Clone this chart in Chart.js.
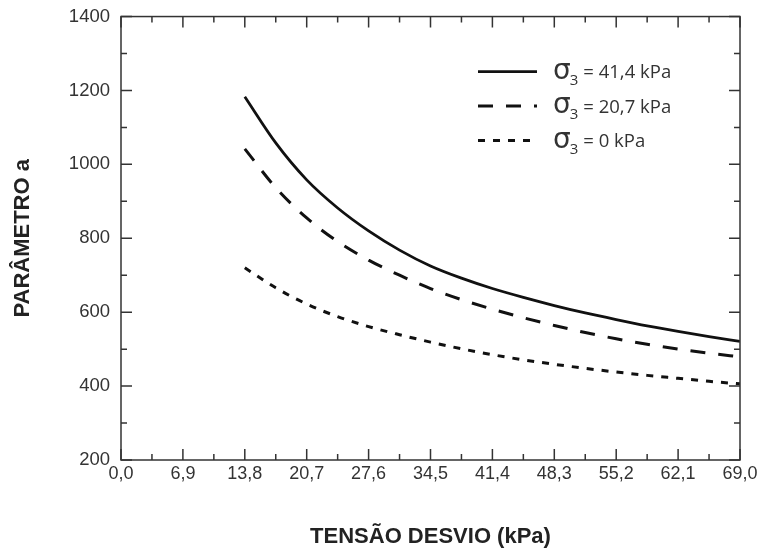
<!DOCTYPE html>
<html>
<head>
<meta charset="utf-8">
<script src="https://cdn.jsdelivr.net/npm/chart.js@4.4.1/dist/chart.umd.min.js"></script>
<style>
  html, body { margin: 0; padding: 0; background: #fff; }
  #wrap { width: 761px; height: 548px; }
</style>
</head>
<body>
<div id="wrap"><canvas id="grafico" width="761" height="548"></canvas></div>
<script>
// valores
const tensaoDesvio = [13.8, 17.25, 20.7, 24.15, 27.6, 31.05, 34.5, 37.95, 41.4, 44.85, 48.3, 51.75, 55.2, 58.65, 62.1, 65.55, 69.0];
const aSigma414 = [1183, 1058, 958, 882, 820, 768, 725, 692, 664, 640, 618, 598, 580, 563, 548, 534, 521];
const aSigma207 = [1042, 937, 855, 791, 741, 700, 664, 634, 608, 585, 564, 545, 528, 513, 500, 489, 479];
const aSigma0   = [720, 666, 622, 588, 561, 539, 519, 501, 485, 471, 459, 448, 438, 429, 421, 413, 406];

const sigmaLabels = ['41,4', '20,7', '0'];
const xTicks = [0, 6.9, 13.8, 20.7, 27.6, 34.5, 41.4, 48.3, 55.2, 62.1, 69.0];
const yTicks = [200, 400, 600, 800, 1000, 1200, 1400];

const corEixo = '#333333';

function pontos(ys) {
    return tensaoDesvio.map((x, i) => ({ x: x, y: ys[i] }));
}

// marcas dos eixos para dentro, nos quatro lados
const marcasInternas = {
    id: 'marcasInternas',
    afterDraw(chart) {
        const ctx = chart.ctx;
        const a = chart.chartArea;
        const sx = chart.scales.x;
        const sy = chart.scales.y;
        ctx.save();
        ctx.strokeStyle = corEixo;
        ctx.lineWidth = 1.5;
        ctx.strokeRect(a.left, a.top, a.right - a.left, a.bottom - a.top);

        ctx.beginPath();
        for (let i = 0; i < xTicks.length; i++) {
            const px = sx.getPixelForValue(xTicks[i]);
            ctx.moveTo(px, a.bottom); ctx.lineTo(px, a.bottom - 11);
            ctx.moveTo(px, a.top); ctx.lineTo(px, a.top + 11);
            if (i < xTicks.length - 1) {
                const pm = sx.getPixelForValue((xTicks[i] + xTicks[i + 1]) / 2);
                ctx.moveTo(pm, a.bottom); ctx.lineTo(pm, a.bottom - 6);
                ctx.moveTo(pm, a.top); ctx.lineTo(pm, a.top + 6);
            }
        }
        for (let i = 0; i < yTicks.length; i++) {
            const py = sy.getPixelForValue(yTicks[i]);
            ctx.moveTo(a.left, py); ctx.lineTo(a.left + 11, py);
            ctx.moveTo(a.right, py); ctx.lineTo(a.right - 11, py);
            if (i < yTicks.length - 1) {
                const pm = sy.getPixelForValue((yTicks[i] + yTicks[i + 1]) / 2);
                ctx.moveTo(a.left, pm); ctx.lineTo(a.left + 6, pm);
                ctx.moveTo(a.right, pm); ctx.lineTo(a.right - 6, pm);
            }
        }
        ctx.stroke();
        ctx.restore();
    }
};

// legenda dentro da área do gráfico, com o índice 3 do sigma
const legendaSigma = {
    id: 'legendaSigma',
    afterDraw(chart) {
        const ctx = chart.ctx;
        const a = chart.chartArea;
        const x0 = a.right - 262;
        const x1 = x0 + 59;
        let y = a.top + 55;
        ctx.save();
        chart.data.datasets.forEach((ds, i) => {
            ctx.beginPath();
            ctx.strokeStyle = '#111';
            ctx.lineWidth = ds.borderWidth;
            ctx.setLineDash(ds.borderDash || []);
            ctx.moveTo(x0, y);
            ctx.lineTo(x1, y);
            ctx.stroke();
            ctx.setLineDash([]);

            ctx.fillStyle = '#333';
            ctx.textBaseline = 'alphabetic';
            let tx = x1 + 16;
            ctx.font = '28px "DejaVu Sans"';
            ctx.fillText('σ', tx, y + 7);
            tx += ctx.measureText('σ').width - 1;
            ctx.font = '15px "Open Sans"';
            ctx.fillText('3', tx, y + 13);
            tx += ctx.measureText('3').width + 5;
            ctx.font = '18.5px "Open Sans"';
            ctx.fillText('= ' + sigmaLabels[i] + ' kPa', tx, y + 6.5);
            y += 34.5;
        });
        ctx.restore();
    }
};

new Chart(document.getElementById('grafico'), {
    type: 'line',
    data: {
        datasets: [
            {
                label: 'σ3 = ' + sigmaLabels[0] + ' kPa',
                data: pontos(aSigma414),
                borderColor: '#111',
                borderWidth: 2.8,
                borderDash: [],
                pointRadius: 0,
                cubicInterpolationMode: 'monotone'
            },
            {
                label: 'σ3 = ' + sigmaLabels[1] + ' kPa',
                data: pontos(aSigma207),
                borderColor: '#111',
                borderWidth: 3,
                borderDash: [15, 13],
                pointRadius: 0,
                cubicInterpolationMode: 'monotone'
            },
            {
                label: 'σ3 = ' + sigmaLabels[2] + ' kPa',
                data: pontos(aSigma0),
                borderColor: '#111',
                borderWidth: 3,
                borderDash: [7, 8],
                pointRadius: 0,
                cubicInterpolationMode: 'monotone'
            }
        ]
    },
    options: {
        responsive: false,
        animation: false,
        layout: { padding: { left: 0, top: 16, right: 21, bottom: 0 } },
        plugins: {
            legend: { display: false },
            tooltip: { enabled: false }
        },
        scales: {
            x: {
                type: 'linear',
                min: 0,
                max: 69,
                afterBuildTicks: (s) => { s.ticks = xTicks.map(v => ({ value: v })); },
                afterFit: (s) => { s.height = 88; },
                grid: { display: false, drawTicks: false },
                border: { display: false },
                ticks: {
                    padding: 3,
                    color: corEixo,
                    font: { family: '"Liberation Sans", Arial', size: 18 },
                    maxRotation: 0,
                    autoSkip: false,
                    callback: (v) => v.toFixed(1).replace('.', ',')
                },
                title: {
                    display: true,
                    text: 'TENSÃO DESVIO (kPa)',
                    color: '#222',
                    font: { family: '"Liberation Sans", Arial', size: 22, weight: 'bold', lineHeight: 1 },
                    padding: { top: 0, bottom: 0 }
                }
            },
            y: {
                min: 200,
                max: 1400,
                afterBuildTicks: (s) => { s.ticks = yTicks.map(v => ({ value: v })); },
                afterFit: (s) => { s.width = 121; },
                grid: { display: false, drawTicks: false },
                border: { display: false },
                ticks: {
                    padding: 11,
                    color: corEixo,
                    font: { family: '"Liberation Sans", Arial', size: 18.5, lineHeight: 0.6 },
                    callback: (v) => String(v)
                },
                title: {
                    display: true,
                    text: 'PARÂMETRO a',
                    color: '#222',
                    font: { family: '"Liberation Sans", Arial', size: 22, weight: 'bold', lineHeight: 1 },
                    padding: { top: 12, bottom: 0 }
                }
            }
        }
    },
    plugins: [marcasInternas, legendaSigma]
});
</script>
</body>
</html>
